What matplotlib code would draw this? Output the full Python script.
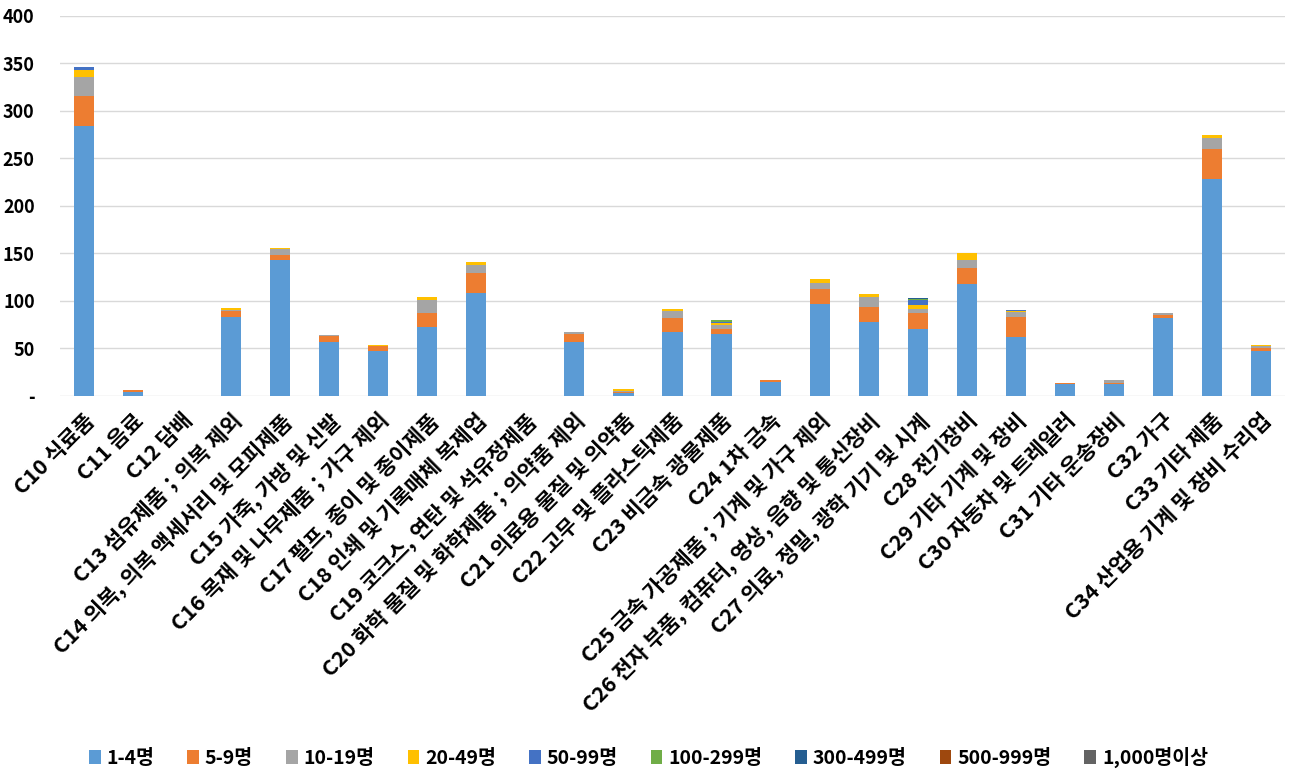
import numpy as np
from matplotlib import pyplot as plt

plt.rcParams['font.family'] = ['Noto Sans CJK KR', 'DejaVu Sans']

categories = [
    'C10 식료품', 'C11 음료', 'C12 담배', 'C13 섬유제품；의복 제외',
    'C14 의복, 의복 액세서리 및 모피제품', 'C15 가죽, 가방 및 신발',
    'C16 목재 및 나무제품；가구 제외', 'C17 펄프, 종이 및 종이제품',
    'C18 인쇄 및 기록매체 복제업', 'C19 코크스, 연탄 및 석유정제품',
    'C20 화학 물질 및 화학제품；의약품 제외', 'C21 의료용 물질 및 의약품',
    'C22 고무 및 플라스틱제품', 'C23 비금속 광물제품', 'C24 1차 금속',
    'C25 금속 가공제품；기계 및 가구 제외',
    'C26 전자 부품, 컴퓨터, 영상, 음향 및 통신장비',
    'C27 의료, 정밀, 광학 기기 및 시계', 'C28 전기장비', 'C29 기타 기계 및 장비',
    'C30 자동차 및 트레일러', 'C31 기타 운송장비', 'C32 가구', 'C33 기타 제품',
    'C34 산업용 기계 및 장비 수리업',
]

series_names = ['1-4명', '5-9명', '10-19명', '20-49명', '50-99명',
                '100-299명', '300-499명', '500-999명', '1,000명이상']
colors = ['#5B9BD5', '#ED7D31', '#A5A5A5', '#FFC000', '#4472C4',
          '#70AD47', '#255E91', '#9E480E', '#636363']

s_1_4 = [284, 4.5, 0, 83, 143, 57, 47, 72.5, 108, 0, 57, 3, 67.5, 65, 15,
         97, 78, 70.5, 118, 62, 12.5, 12.5, 82, 228, 47.5]
s_5_9 = [32, 1.5, 0, 6.5, 5.5, 6, 6, 15, 21, 0, 8.5, 1.5, 14.5, 5, 2,
         15, 15.5, 17, 17, 20.5, 1, 1, 3, 32, 3]
s_10_19 = [19, 0, 0, 1, 6, 1, 0, 13.5, 8.5, 0, 2, 1, 7.5, 4.5, 0,
           6.5, 10.5, 4, 8, 6, 0, 3, 2, 11.5, 2]
s_20_49 = [8, 0, 0, 2, 1, 0, 1, 3, 3, 0, 0, 1.5, 2, 2, 0,
           4, 3, 4.5, 7.5, 1, 0, 0, 0, 3, 1]
s_50_99 = [3, 0, 0, 0, 0, 0, 0, 0, 0, 0, 0, 0, 0, 1, 0,
           0, 0, 5, 0, 1, 0, 0, 0, 0, 0]
s_100_299 = [0, 0, 0, 0, 0, 0, 0, 0, 0, 0, 0, 0, 0, 2.5, 0,
             0, 0, 1, 0, 0, 0, 0, 0, 0, 0]
s_300_499 = [0, 0, 0, 0, 0, 0, 0, 0, 0, 0, 0, 0, 0, 0, 0,
             0, 0, 1, 0, 0, 0, 0, 0, 0, 0]
s_500_999 = [0] * 25
s_1000 = [0] * 25

all_series = [s_1_4, s_5_9, s_10_19, s_20_49, s_50_99,
              s_100_299, s_300_499, s_500_999, s_1000]

fig = plt.figure(figsize=(12.97, 7.84), dpi=100)
ax = fig.add_axes([0.046, 0.495, 0.945, 0.485])

x = np.arange(len(categories))
bottom = np.zeros(len(categories))
for name, vals, c in zip(series_names, all_series, colors):
    vals = np.array(vals, dtype=float)
    ax.bar(x, vals, 0.41, bottom=bottom, color=c, label=name, zorder=3)
    bottom += vals

ax.set_xlim(-0.5, len(categories) - 0.5)
ax.set_ylim(0, 400)
ax.set_yticks(range(0, 401, 50))
ax.set_yticklabels(['-'] + [str(v) for v in range(50, 401, 50)],
                   fontsize=13, fontweight='bold')
ax.yaxis.grid(True, color='#d9d9d9', linewidth=1, zorder=0)
ax.tick_params(axis='both', length=0)
ax.tick_params(axis='y', pad=18)
for sp in ax.spines.values():
    sp.set_visible(False)

ax.set_xticks(x)
ax.set_xticklabels(categories, rotation=45, ha='right', rotation_mode='anchor',
                   fontsize=15.5, fontweight='bold')
ax.tick_params(axis='x', pad=10)

fig.legend(loc='center', bbox_to_anchor=(0.5, 0.034), ncol=9, frameon=False,
           prop={'size': 14, 'weight': 'bold'}, handlelength=0.6,
           handleheight=0.7, columnspacing=1.7, handletextpad=0.3)

fig.savefig('out.png', dpi=100)
